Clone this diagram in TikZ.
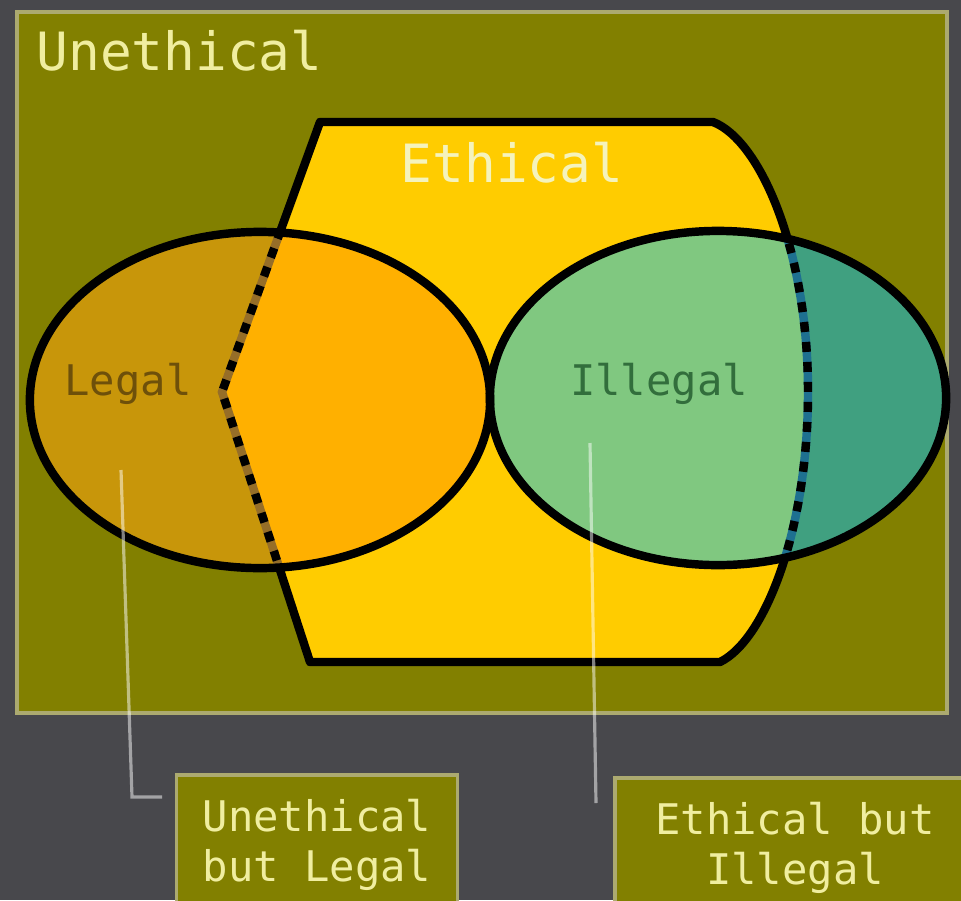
\documentclass[tikz,border=0pt]{standalone}
\usepackage{fontspec}
\newfontfamily\monofont{DejaVu Sans Mono}
\definecolor{bgray}{RGB}{72,72,76}
\definecolor{oliveback}{RGB}{130,128,0}
\definecolor{framelt}{RGB}{172,170,112}
\definecolor{ethyellow}{RGB}{255,204,0}
\definecolor{legaldark}{RGB}{200,150,10}
\definecolor{legalmid}{RGB}{255,176,0}
\definecolor{legalgap}{RGB}{150,110,40}
\definecolor{illegaldark}{RGB}{64,160,128}
\definecolor{illegallight}{RGB}{128,200,128}
\definecolor{illegalgap}{RGB}{30,112,144}
\definecolor{cream}{RGB}{240,238,160}
\definecolor{legaltxt}{RGB}{110,80,10}
\definecolor{illegaltxt}{RGB}{50,110,60}
\begin{document}
\begin{tikzpicture}[x=0.01cm,y=-0.01cm,
	outline/.style={draw=black,line width=2.4pt,line join=round},
	gapline/.style={line width=2.4pt,dash pattern=on 0.1cm off 0.1cm},
	bigtext/.style={font=\monofont\fontsize{15pt}{18pt}\selectfont,inner sep=0pt},
	smalltext/.style={font=\monofont\fontsize{12pt}{14.2pt}\selectfont,inner sep=0pt},
	tagbox/.style={draw=framelt,line width=1pt,fill=oliveback,text=cream,smalltext,minimum height=1.4cm},
	leader/.style={draw=white,draw opacity=0.5,line width=0.9pt}]
	\def\ethicalpath{(320,122) -- (713,122) .. controls (760,140) and (808,250) .. (808,392)
		.. controls (808,530) and (765,640) .. (720,662) -- (310,662) -- (222,392) -- cycle}
	\def\legalpath{(260,400) ellipse [x radius=2.3cm, y radius=1.68cm]}
	\def\illegalpath{(718,398) ellipse [x radius=2.28cm, y radius=1.67cm]}
	\useasboundingbox (0,0) rectangle (961,900);
	\fill[bgray] (0,0) rectangle (961,900);
	\clip (0,0) rectangle (961,900);
	\draw[draw=framelt,line width=1pt,fill=oliveback] (17,12) rectangle (947,713);
	% ethical region and the two ellipses
	\fill[ethyellow] \ethicalpath;
	\draw[outline] \ethicalpath;
	\fill[legaldark] \legalpath;
	\fill[illegaldark] \illegalpath;
	\begin{scope}
		\clip \ethicalpath;
		\fill[legalmid] \legalpath;
		\fill[illegallight] \illegalpath;
	\end{scope}
	\foreach \p/\g in {\legalpath/legalgap, \illegalpath/illegalgap}{
		\begin{scope}
			\clip \p;
			\draw[line width=2.4pt,\g] \ethicalpath;
			\draw[gapline] \ethicalpath;
		\end{scope}
	}
	\draw[outline] \legalpath;
	\draw[outline] \illegalpath;
	% labels
	\path (36,70) coordinate (U) (512,182) coordinate (E)
		(128,395) coordinate (L) (659,395) coordinate (I);
	\node[bigtext,text=cream,anchor=base west] (unethical) at (U) {Unethical};
	\node[bigtext,text=cream!70!white,anchor=base] (ethical) at (E) {Ethical};
	\node[smalltext,text=legaltxt,anchor=base] (legal) at (L) {Legal};
	\node[smalltext,text=illegaltxt,anchor=base] (illegal) at (I) {Illegal};
	% call-out boxes
	\node[tagbox,align=left,minimum width=2.81cm] (unlegal) at (317,845) {Unethical\\but Legal};
	\node[tagbox,align=center,minimum width=3.6cm] (ethillegal) at (795,848) {Ethical but\\Illegal};
	\path (121,470) coordinate (lgA) (132,797) coordinate (lgB) (162,797) coordinate (lgC)
		(590,443) coordinate (ilA) (596,803) coordinate (ilB);
	\draw[leader] (lgA) -- (lgB) -- (lgC);
	\draw[leader] (ilA) -- (ilB);
\end{tikzpicture}
\end{document}
